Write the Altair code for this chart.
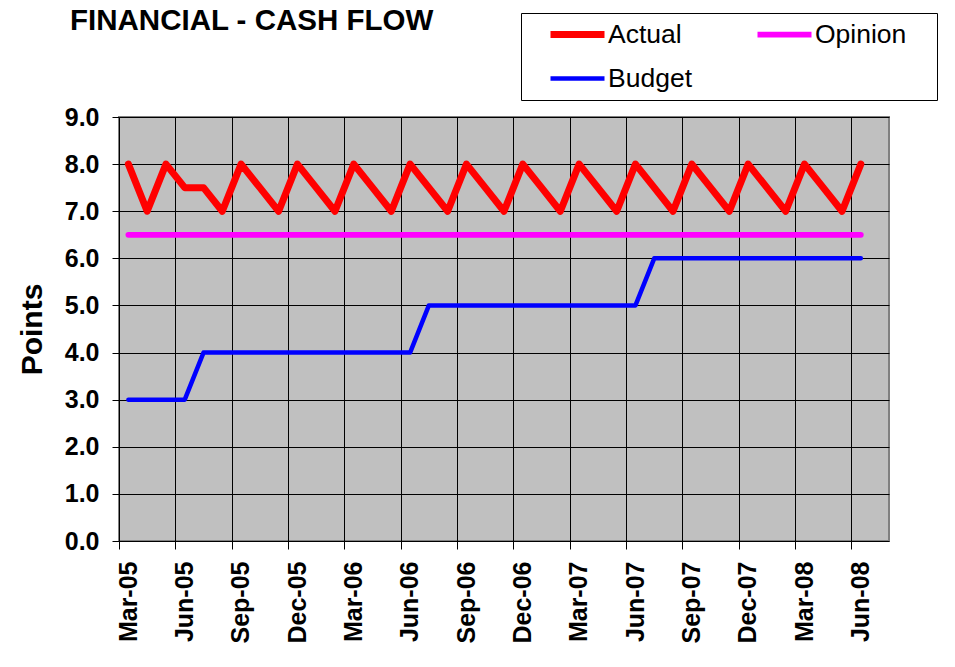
import altair as alt
import pandas as pd

months = ["Mar-05", "Apr-05", "May-05", "Jun-05", "Jul-05", "Aug-05", "Sep-05", "Oct-05",
          "Nov-05", "Dec-05", "Jan-06", "Feb-06", "Mar-06", "Apr-06", "May-06", "Jun-06",
          "Jul-06", "Aug-06", "Sep-06", "Oct-06", "Nov-06", "Dec-06", "Jan-07", "Feb-07",
          "Mar-07", "Apr-07", "May-07", "Jun-07", "Jul-07", "Aug-07", "Sep-07", "Oct-07",
          "Nov-07", "Dec-07", "Jan-08", "Feb-08", "Mar-08", "Apr-08", "May-08", "Jun-08"]

actual = [8.0, 7.0, 8.0, 7.5, 7.5, 7.0, 8.0, 7.5, 7.0, 8.0, 7.5, 7.0, 8.0, 7.5, 7.0, 8.0,
          7.5, 7.0, 8.0, 7.5, 7.0, 8.0, 7.5, 7.0, 8.0, 7.5, 7.0, 8.0, 7.5, 7.0, 8.0, 7.5,
          7.0, 8.0, 7.5, 7.0, 8.0, 7.5, 7.0, 8.0]

opinion = [6.5, 6.5, 6.5, 6.5, 6.5, 6.5, 6.5, 6.5, 6.5, 6.5, 6.5, 6.5, 6.5, 6.5, 6.5, 6.5,
           6.5, 6.5, 6.5, 6.5, 6.5, 6.5, 6.5, 6.5, 6.5, 6.5, 6.5, 6.5, 6.5, 6.5, 6.5, 6.5,
           6.5, 6.5, 6.5, 6.5, 6.5, 6.5, 6.5, 6.5]

budget = [3.0, 3.0, 3.0, 3.0, 4.0, 4.0, 4.0, 4.0, 4.0, 4.0, 4.0, 4.0, 4.0, 4.0, 4.0, 4.0,
          5.0, 5.0, 5.0, 5.0, 5.0, 5.0, 5.0, 5.0, 5.0, 5.0, 5.0, 5.0, 6.0, 6.0, 6.0, 6.0,
          6.0, 6.0, 6.0, 6.0, 6.0, 6.0, 6.0, 6.0]

tick_labels = ["Mar-05", "Jun-05", "Sep-05", "Dec-05", "Mar-06", "Jun-06", "Sep-06",
               "Dec-06", "Mar-07", "Jun-07", "Sep-07", "Dec-07", "Mar-08", "Jun-08"]
y_ticks = [0, 1, 2, 3, 4, 5, 6, 7, 8, 9]

series_names = ["Actual", "Opinion", "Budget"]
series_colors = ["#FF0000", "#FF00FF", "#0000FF"]
series_widths = [7, 4.5, 4.5]
# legend fills column by column: this order puts Actual | Opinion on row 1, Budget on row 2
legend_order = ["Actual", "Budget", "Opinion"]
n_categories = 41  # Mar-05 .. Jul-08 category slots

rows = []
for name, vals in zip(series_names, [actual, opinion, budget]):
    for i, (m, v) in enumerate(zip(months, vals)):
        rows.append({"series": name, "idx": i, "month": m, "value": v})
df = pd.DataFrame(rows)

FONT = "Liberation Sans"
label_array = "[" + ",".join("'" + t + "'" for t in tick_labels) + "]"
# invisible trailing room after the last legend label, so the legend frame reaches
# as far right as in the reference
PAD = "\u00a0" * 3 + "\u200b"

legend = alt.Legend(
    title=None, orient="none", legendX=402, legendY=-104, columns=2,
    values=legend_order,
    symbolType="stroke", symbolSize=2916, labelFont=FONT, labelFontSize=26.5,
    labelColor="black", labelOffset=0, symbolOffset=18, rowPadding=17,
    clipHeight=27, columnPadding=44, padding=8, strokeColor="black",
    labelExpr="datum.label == 'Opinion' ? 'Opinion" + PAD + "' : datum.label",
)

chart = alt.Chart(df).transform_calculate(
    pos="datum.idx + 0.5"
).mark_line(strokeCap="round", strokeJoin="round").encode(
    x=alt.X("pos:Q",
            scale=alt.Scale(domain=[0, n_categories], nice=False, zero=False),
            axis=alt.Axis(values=list(range(0, 40, 3)),
                          labelExpr=label_array + "[round(datum.value/3)]",
                          labelAngle=270, labelOffset=9, labelPadding=12,
                          tickSize=8, title=None)),
    y=alt.Y("value:Q",
            scale=alt.Scale(domain=[0, 9], nice=False, zero=True),
            axis=alt.Axis(values=y_ticks, format=".1f", title="Points",
                          tickSize=7, labelPadding=13,
                          titleX=-78, titleY=212, titleAngle=270,
                          titleBaseline="alphabetic", titleAlign="center",
                          titleFontSize=30)),
    color=alt.Color("series:N",
                    scale=alt.Scale(domain=series_names, range=series_colors),
                    legend=legend),
    strokeWidth=alt.StrokeWidth("series:N",
                                scale=alt.Scale(domain=series_names, range=series_widths),
                                legend=legend),
    order="idx:Q",
).properties(
    width=770, height=424,
    title=alt.Title("FINANCIAL - CASH FLOW", anchor="start", frame="group", dx=-49, dy=28,
                    font=FONT, fontSize=29.5, fontWeight="bold", color="black"),
    autosize=alt.AutoSizeParams(type="none"),
    padding={"left": 111, "top": 109, "right": 50, "bottom": 110},
).configure_view(
    fill="#C0C0C0", stroke="#808080", strokeWidth=2
).configure_axis(
    grid=True, gridColor="black", gridWidth=1, gridOpacity=1,
    domain=False, tickColor="black", tickWidth=1,
    labelFont=FONT, labelFontSize=25, labelFontWeight="bold", labelColor="black",
    titleFont=FONT, titleFontWeight="bold", titleColor="black",
)

chart.save("out.html", embed_options={"renderer": "svg", "actions": False})
